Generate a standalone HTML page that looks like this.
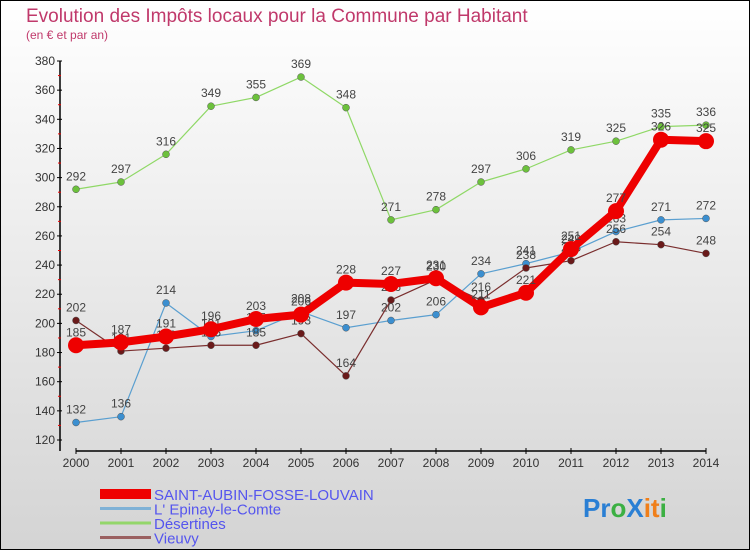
<!DOCTYPE html>
<html><head><meta charset="utf-8"><style>
body{margin:0;background:#fff;}
#c{width:750px;height:550px;position:relative;font-family:"Liberation Sans",sans-serif;}
</style></head><body>
<div id="c">
<svg id="s" width="750" height="550" xmlns="http://www.w3.org/2000/svg">
<defs><linearGradient id="bg" x1="0" y1="0" x2="0" y2="1"><stop offset="0" stop-color="#ffffff"/><stop offset="1" stop-color="#d4d4d4"/></linearGradient></defs>
<rect x="0.5" y="0.5" width="749" height="549" fill="url(#bg)" stroke="#000"/>
<text x="26" y="22" font-size="19" fill="#c0396b">Evolution des Impôts locaux pour la Commune par Habitant</text>
<text x="26" y="39" font-size="12" fill="#c0396b">(en € et par an)</text>
<g id="axes"></g><g id="series"></g><g id="legend"></g>
<text x="583" y="517" font-size="26" font-weight="bold"><tspan fill="#2a7fd4">Pr</tspan><tspan fill="#3cb043">o</tspan><tspan fill="#2a7fd4">X</tspan><tspan fill="#f07f1a">it</tspan><tspan fill="#3cb043">i</tspan></text>
</svg></div>
<script>
const years=[2000,2001,2002,2003,2004,2005,2006,2007,2008,2009,2010,2011,2012,2013,2014];
const yTicks=[120,140,160,180,200,220,240,260,280,300,320,340,360,380];
const saint=[185,187,191,196,203,206,228,227,231,211,221,251,277,326,325];
const epinay=[132,136,214,191,195,208,197,202,206,234,241,249,263,271,272];
const desertines=[292,297,316,349,355,369,348,271,278,297,306,319,325,335,336];
const vieuvy=[202,181,183,185,185,193,164,216,230,216,238,243,256,254,248];
const names=["SAINT-AUBIN-FOSSE-LOUVAIN","L' Epinay-le-Comte","Désertines","Vieuvy"];
const NS="http://www.w3.org/2000/svg";
const x=i=>76+i*45;
const y=v=>440-(v-120)*(379/260);
function mk(t,a,p){const e=document.createElementNS(NS,t);for(const k in a)e.setAttribute(k,a[k]);p.appendChild(e);return e;}
const ax=document.getElementById('axes');
const yl=mk('line',{x1:60,y1:61,x2:60,y2:451,stroke:'#000','stroke-width':1.5},ax);


const xl=mk('line',{x1:76,y1:451,x2:706,y2:451,stroke:'#000','stroke-width':1.5},ax);


yTicks.forEach((v,i)=>{
 mk('line',{x1:57,y1:y(v),x2:62,y2:y(v),stroke:'#000'},ax);
 if(i<yTicks.length-1) mk('line',{x1:58,y1:y(v+10),x2:61,y2:y(v+10),stroke:'#e00'},ax);
 const t=mk('text',{x:55,y:y(v)+4,'font-size':12,'text-anchor':'end',fill:'#333'},ax);
 t.textContent=v;
 
 
});
years.forEach((yr,i)=>{
 mk('line',{x1:x(i),y1:448,x2:x(i),y2:454,stroke:'#000'},ax);
 const t=mk('text',{x:x(i),y:467,'font-size':12,'text-anchor':'middle',fill:'#333'},ax);
 t.textContent=yr;
 
 
});
const sg=document.getElementById('series');
const defs=[[desertines,'#8fd866','#6cc13c',1.2,3.5,'desertines'],[epinay,'#5a9fd0','#3b8fd0',1.2,3.5,'epinay'],[vieuvy,'#7a2e2e','#6a1a1a',1.2,3.5,'vieuvy'],[saint,'#ee0000','#ee0000',8,8,'saint-aubin']];
defs.forEach(d=>{
 const [data,lc,pc,w,r,nm]=d;
 const g=mk('g',{},sg);
 
 
 const pl=mk('polyline',{points:data.map((v,i)=>x(i)+','+y(v)).join(' '),fill:'none',stroke:lc,'stroke-width':w,'stroke-linejoin':'round'},g);
 
 
 data.forEach((v,i)=>{
  const c=mk('circle',{cx:x(i),cy:y(v),r:r,fill:pc,stroke:nm=='saint-aubin'?'none':'#555','stroke-width':0.5},g);
  
  
  const t=mk('text',{x:x(i),y:y(v)-9,'font-size':12,'text-anchor':'middle',fill:'#444'},g);
  t.textContent=v;
  
  
 });
});
const lg=document.getElementById('legend');
const lcol=['#ee0000','#7fb1d6','#93d66a','#9a6060'],lw=[10,3,3,3];
names.forEach((n,i)=>{
 const yy=494+i*14.5;
 const l=mk('line',{x1:100,y1:yy,x2:151,y2:yy,stroke:lcol[i],'stroke-width':lw[i]},lg);
 
 
 const t=mk('text',{x:154,y:yy+6,'font-size':15,fill:'#5555ee'},lg);
 t.textContent=n;
 
 
});
</script>
</body></html>
